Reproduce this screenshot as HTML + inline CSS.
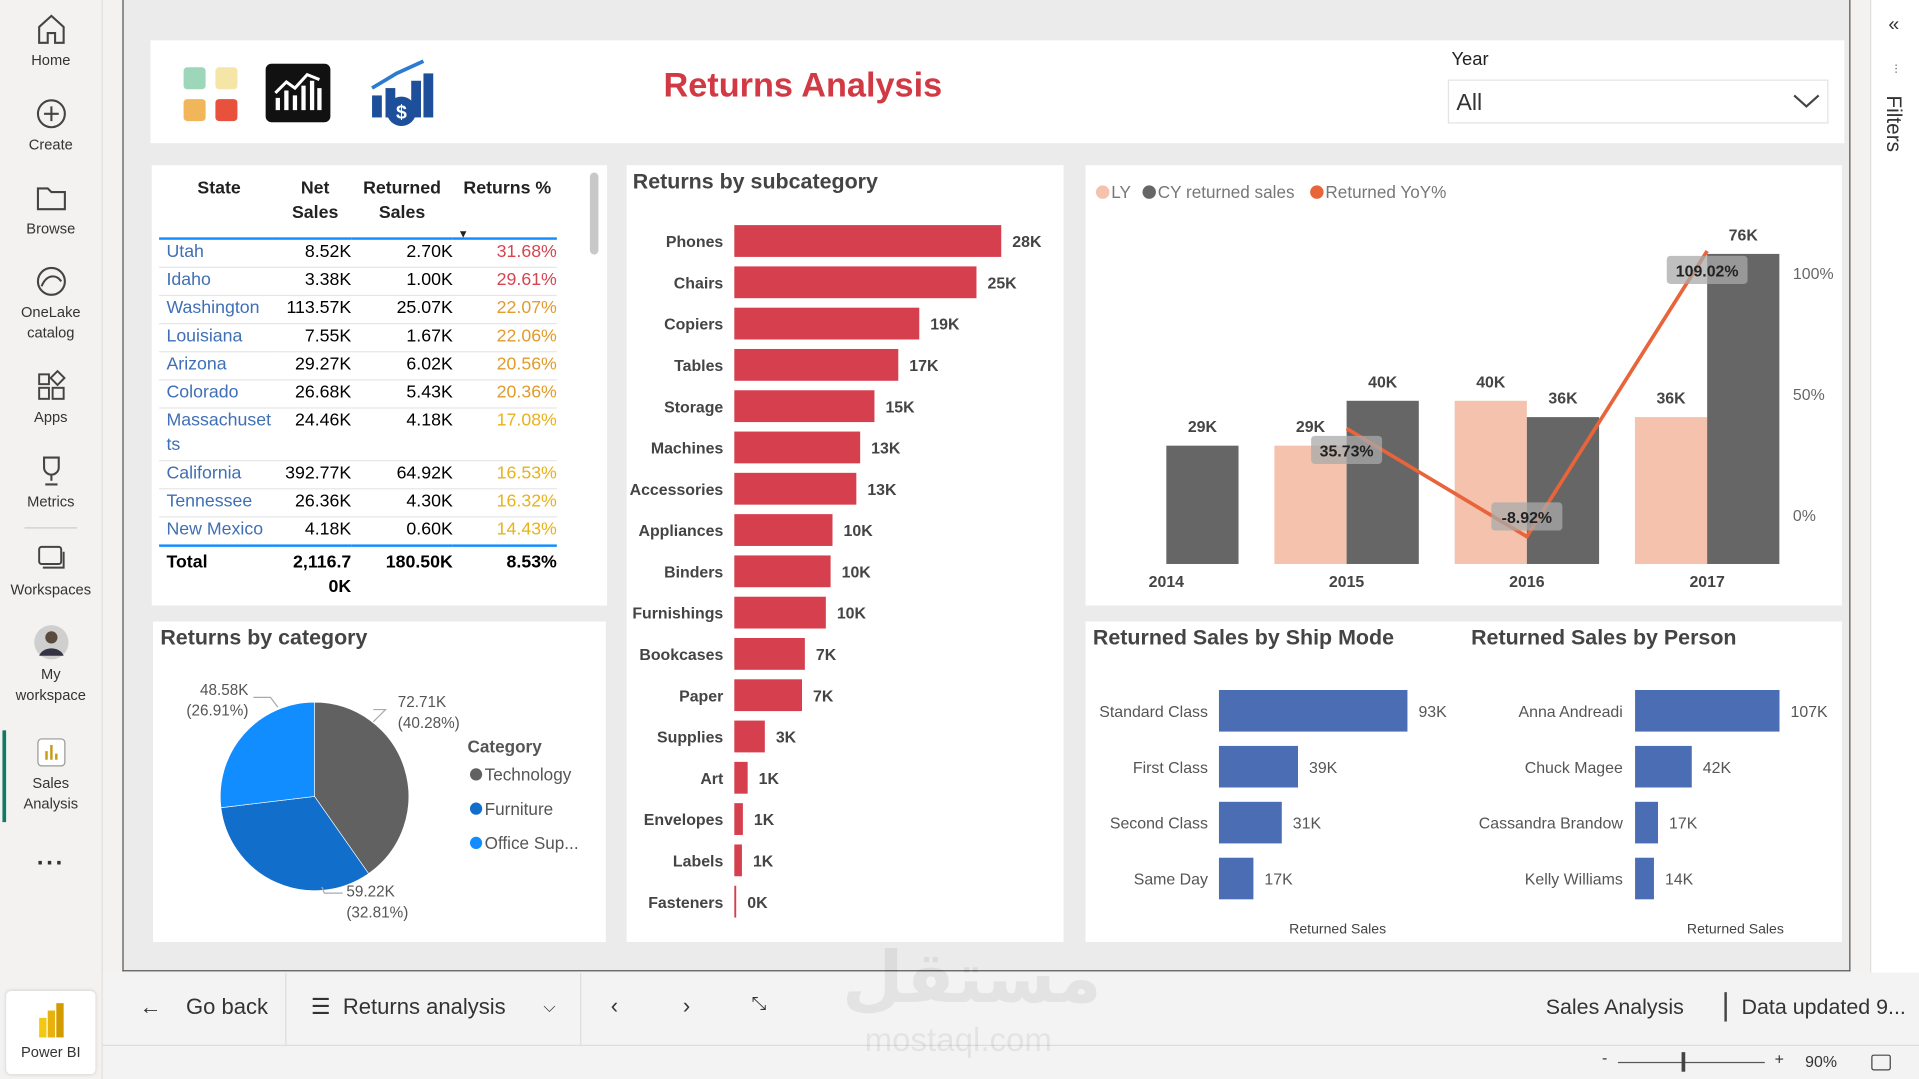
<!DOCTYPE html>
<html><head><meta charset="utf-8">
<style>
html,body{margin:0;padding:0;width:1919px;height:1079px;overflow:hidden;background:#f3f2f1;font-family:"Liberation Sans",sans-serif;}
#wrap{position:absolute;left:0;top:0;width:1568px;height:882px;transform:scale(1.22385,1.2234);transform-origin:0 0;background:#f3f2f1;}
.abs{position:absolute;}
.nav-item{position:absolute;left:0;width:83px;text-align:center;font-size:12px;color:#333;line-height:17px;}
.nav-item svg{display:block;margin:0 auto 3px;}
.panel{position:absolute;background:#fff;}
.ptitle{position:absolute;font-weight:bold;font-size:17.5px;color:#444;}
table{border-collapse:collapse;}
.tb{position:absolute;font-size:14.5px;}
.tb td{height:22px;border-bottom:1px solid #e6e6e6;padding:0;vertical-align:top;line-height:20px;}
.st{color:#3f6fb5;}
.r{text-align:right;}
</style></head>
<body>
<div id="wrap">
<!-- left nav -->
<div class="abs" style="left:0;top:0;width:83px;height:882px;background:#f3f2f1;border-right:1px solid #e1dfdd;">
 <div class="nav-item" style="top:10px;"><svg width="26" height="28" viewBox="0 0 26 28"><path d="M3 12 L13 3 L23 12 V25 H16 V17 H10 V25 H3 Z" fill="none" stroke="#444" stroke-width="1.7"/></svg>Home</div>
 <div class="nav-item" style="top:79px;"><svg width="28" height="28"><circle cx="14" cy="14" r="11" fill="none" stroke="#444" stroke-width="1.7"/><path d="M14 8v12M8 14h12" stroke="#444" stroke-width="1.7"/></svg>Create</div>
 <div class="nav-item" style="top:148px;"><svg width="28" height="28"><path d="M3 6h8l3 3h11v14H3z" fill="none" stroke="#444" stroke-width="1.7"/></svg>Browse</div>
 <div class="nav-item" style="top:216px;"><svg width="28" height="28"><circle cx="14" cy="14" r="11" fill="none" stroke="#444" stroke-width="1.7"/><path d="M6 18 C10 8 18 8 22 14" fill="none" stroke="#444" stroke-width="1.7"/></svg>OneLake<br>catalog</div>
 <div class="nav-item" style="top:302px;"><svg width="28" height="28"><rect x="4" y="4" width="8" height="8" fill="none" stroke="#444" stroke-width="1.6"/><rect x="4" y="15" width="8" height="9" fill="none" stroke="#444" stroke-width="1.6"/><rect x="15" y="15" width="9" height="9" fill="none" stroke="#444" stroke-width="1.6"/><rect x="15" y="3" width="8" height="8" transform="rotate(45 19 7)" fill="none" stroke="#444" stroke-width="1.6"/></svg>Apps</div>
 <div class="nav-item" style="top:371px;"><svg width="28" height="28"><path d="M8 3h12v8a6 6 0 0 1-12 0z M14 17v5 M9 25h10" fill="none" stroke="#444" stroke-width="1.7"/></svg>Metrics</div>
 <div class="abs" style="left:20px;top:431px;width:43px;height:1px;background:#ccc;"></div>
 <div class="nav-item" style="top:443px;"><svg width="28" height="28"><rect x="4" y="4" width="18" height="14" rx="2" fill="none" stroke="#444" stroke-width="1.6"/><path d="M7 21h17V8" fill="none" stroke="#444" stroke-width="1.6"/></svg>Workspaces</div>
 <div class="nav-item" style="top:510px;"><svg width="30" height="30"><circle cx="15" cy="15" r="14" fill="#cfcfcf"/><circle cx="15" cy="11" r="5" fill="#5a4a3e"/><path d="M5 26 C8 18 22 18 25 26" fill="#334"/></svg>My<br>workspace</div>
 <div class="abs" style="left:2px;top:597px;width:3px;height:75px;background:#117865;"></div>
 <div class="nav-item" style="top:601px;"><svg width="28" height="28"><rect x="3" y="3" width="22" height="22" rx="3" fill="#fff" stroke="#999"/><path d="M10 20v-7M14 20V8M18 20v-5" stroke="#c89a16" stroke-width="2"/></svg>Sales<br>Analysis</div>
 <div class="nav-item" style="top:698px;font-size:20px;font-weight:bold;letter-spacing:1px;">···</div>
 <div class="abs" style="left:5px;top:810px;width:73px;height:68px;background:#fff;border-radius:4px;box-shadow:0 0 3px #ccc;text-align:center;font-size:12px;color:#333;">
  <svg width="26" height="32" style="margin-top:8px;"><rect x="3" y="14" width="6" height="16" fill="#f2c811"/><rect x="10" y="8" width="6" height="22" fill="#e8b10d"/><rect x="17" y="2" width="6" height="28" fill="#d29b00"/></svg><div>Power BI</div></div>
</div>

<!-- canvas -->
<div class="abs" style="left:100px;top:0;width:1410px;height:793px;background:#ebebeb;border:1px solid #555;border-top:none;"></div>

<!-- header -->
<div class="panel" style="left:123px;top:33px;width:1384px;height:84px;">
 <div class="abs" style="left:27px;top:22px;">
  <div class="abs" style="left:0;top:0;width:18px;height:18px;background:#9dd6b8;border-radius:3px;"></div>
  <div class="abs" style="left:26px;top:0;width:18px;height:18px;background:#f5e6a8;border-radius:3px;"></div>
  <div class="abs" style="left:0;top:26px;width:18px;height:18px;background:#f2b65a;border-radius:3px;"></div>
  <div class="abs" style="left:26px;top:26px;width:18px;height:18px;background:#e8513c;border-radius:3px;"></div>
 </div>
 <svg class="abs" style="left:94px;top:19px;" width="53" height="48"><rect width="53" height="48" rx="5" fill="#111"/><path d="M10 38V28M17 38V22M24 38V26M31 38V18M38 38V14M44 38V20" stroke="#fff" stroke-width="3.5"/><path d="M8 24 L17 15 L24 20 L34 9 L44 13" fill="none" stroke="#fff" stroke-width="2.5"/></svg>
 <svg class="abs" style="left:177px;top:15px;" width="56" height="56"><rect x="4" y="30" width="8" height="18" fill="#1e4f9a"/><rect x="15" y="24" width="8" height="24" fill="#1e4f9a"/><rect x="36" y="18" width="8" height="30" fill="#1e4f9a"/><rect x="46" y="12" width="8" height="36" fill="#1e4f9a"/><path d="M4 24 L24 12 L46 2" stroke="#2b7bd1" stroke-width="3" fill="none"/><circle cx="28" cy="43" r="12" fill="#1e4f9a"/><text x="28" y="49" font-size="16" font-weight="bold" fill="#fff" text-anchor="middle" font-family="Liberation Sans">$</text></svg>
 <div class="abs" style="left:405px;top:21px;width:256px;text-align:center;font-size:28px;font-weight:bold;color:#d13a45;">Returns Analysis</div>
 <div class="abs" style="left:1063px;top:7px;font-size:15px;color:#222;">Year</div>
 <div class="abs" style="left:1060px;top:32px;width:311px;height:36px;border:1px solid #e3e3e3;font-size:19px;color:#333;line-height:38px;box-sizing:border-box;padding-left:6px;">All<svg class="abs" style="right:6px;top:11px;" width="22" height="12"><path d="M1 1 L11 10 L21 1" fill="none" stroke="#444" stroke-width="1.8"/></svg></div>
</div>

<!-- table -->
<div class="panel" style="left:124px;top:135px;width:372px;height:360px;">
 <div class="tb" style="left:6px;top:9px;">
 <table style="width:325px;">
  <tr style="font-weight:bold;color:#222;"><td style="width:98px;text-align:center;border-bottom:2px solid #118dff;height:50px;line-height:20px;">State</td><td class="r" style="width:59px;text-align:center;border-bottom:2px solid #118dff;">Net<br>Sales</td><td style="width:83px;text-align:center;border-bottom:2px solid #118dff;">Returned<br>Sales</td><td class="r" style="border-bottom:2px solid #118dff;position:relative;text-align:center;padding-left:4px;">Returns %<span style="position:absolute;left:4px;top:37px;font-size:9px;">▼</span></td></tr>
  <tr><td class="st" style="padding-left:6px">Utah</td><td class="r">8.52K</td><td class="r">2.70K</td><td class="r" style="color:#d64550;">31.68%</td></tr>
  <tr><td class="st" style="padding-left:6px">Idaho</td><td class="r">3.38K</td><td class="r">1.00K</td><td class="r" style="color:#d64550;">29.61%</td></tr>
  <tr><td class="st" style="padding-left:6px">Washington</td><td class="r">113.57K</td><td class="r">25.07K</td><td class="r" style="color:#e39b2c;">22.07%</td></tr>
  <tr><td class="st" style="padding-left:6px">Louisiana</td><td class="r">7.55K</td><td class="r">1.67K</td><td class="r" style="color:#e39b2c;">22.06%</td></tr>
  <tr><td class="st" style="padding-left:6px">Arizona</td><td class="r">29.27K</td><td class="r">6.02K</td><td class="r" style="color:#e39b2c;">20.56%</td></tr>
  <tr><td class="st" style="padding-left:6px">Colorado</td><td class="r">26.68K</td><td class="r">5.43K</td><td class="r" style="color:#e39b2c;">20.36%</td></tr>
  <tr><td class="st" style="padding-left:6px;height:42px;">Massachuset<br>ts</td><td class="r">24.46K</td><td class="r">4.18K</td><td class="r" style="color:#e8b21a;">17.08%</td></tr>
  <tr><td class="st" style="padding-left:6px">California</td><td class="r">392.77K</td><td class="r">64.92K</td><td class="r" style="color:#e8b21a;">16.53%</td></tr>
  <tr><td class="st" style="padding-left:6px">Tennessee</td><td class="r">26.36K</td><td class="r">4.30K</td><td class="r" style="color:#e8b21a;">16.32%</td></tr>
  <tr><td class="st" style="padding-left:6px;border-bottom:2px solid #118dff;">New Mexico</td><td class="r" style="border-bottom:2px solid #118dff;">4.18K</td><td class="r" style="border-bottom:2px solid #118dff;">0.60K</td><td class="r" style="color:#e8b21a;border-bottom:2px solid #118dff;">14.43%</td></tr>
  <tr style="font-weight:bold;"><td style="padding-left:6px;padding-top:3px;border:none;">Total</td><td class="r" style="padding-top:3px;border:none;">2,116.7<br>0K</td><td class="r" style="padding-top:3px;border:none;">180.50K</td><td class="r" style="padding-top:3px;border:none;">8.53%</td></tr>
 </table></div>
 <div class="abs" style="left:358px;top:6px;width:7px;height:67px;background:#c8c8c8;border-radius:4px;"></div>
</div>

<!-- subcategory -->
<div class="panel" style="left:512px;top:135px;width:357px;height:635px;">
 <div class="ptitle" style="left:5px;top:3px;">Returns by subcategory</div>
 <svg id="subSvg" class="abs" style="left:0;top:0;" width="357" height="635"></svg>
</div>

<!-- combo chart -->
<div class="panel" style="left:887px;top:135px;width:618px;height:360px;">
 <svg id="comboSvg" class="abs" style="left:0;top:0;" width="618" height="360"></svg>
</div>

<!-- pie -->
<div class="panel" style="left:125px;top:508px;width:370px;height:262px;">
 <div class="ptitle" style="left:6px;top:3px;">Returns by category</div>
 <svg id="pieSvg" class="abs" style="left:0;top:0;" width="370" height="262"></svg>
</div>

<!-- ship/person -->
<div class="panel" style="left:887px;top:508px;width:618px;height:262px;">
 <div class="ptitle" style="left:6px;top:3px;">Returned Sales by Ship Mode</div>
 <div class="ptitle" style="left:315px;top:3px;">Returned Sales by Person</div>
 <svg id="hbSvg" class="abs" style="left:0;top:0;" width="618" height="262"></svg>
</div>

<!-- right filter pane -->
<div class="abs" style="left:1528px;top:0;width:40px;height:795px;background:#fff;border-left:1px solid #e1dfdd;">
 <div class="abs" style="left:14px;top:12px;font-size:16px;color:#333;">«</div>
 <div class="abs" style="left:19px;top:52px;font-size:10px;color:#333;">⫶</div>
 <div class="abs" style="left:8px;top:78px;font-size:17px;color:#333;writing-mode:vertical-rl;">Filters</div>
</div>

<!-- bottom bar -->
<div class="abs" style="left:84px;top:795px;width:1484px;height:59px;background:#f3f3f3;border-bottom:1px solid #ddd;font-size:18px;color:#333;">
 <div class="abs" style="left:30px;top:18px;">←&nbsp;&nbsp;&nbsp;&nbsp;Go back</div>
 <div class="abs" style="left:149px;top:0;width:1px;height:59px;background:#ddd;"></div>
 <div class="abs" style="left:170px;top:18px;width:205px;">☰&nbsp;&nbsp;Returns analysis<span style="position:absolute;left:190px;top:2px;font-size:13px;">⌵</span></div>
 <div class="abs" style="left:390px;top:0;width:1px;height:59px;background:#ddd;"></div>
 <div class="abs" style="left:415px;top:17px;">‹</div>
 <div class="abs" style="left:474px;top:17px;">›</div>
 <div class="abs" style="left:530px;top:17px;font-size:15px;">⤡</div>
 <div class="abs" style="left:1179px;top:18px;font-size:17.5px;">Sales Analysis</div>
 <div class="abs" style="left:1325px;top:16px;width:2px;height:24px;background:#444;"></div>
 <div class="abs" style="left:1339px;top:18px;font-size:17.5px;">Data updated 9...</div>
</div>
<div class="abs" style="left:84px;top:855px;width:1484px;height:27px;background:#f3f3f3;font-size:13px;color:#333;">
 <div class="abs" style="left:1225px;top:2px;">-</div>
 <div class="abs" style="left:1238px;top:13px;width:120px;height:1px;background:#555;"></div>
 <div class="abs" style="left:1290px;top:5px;width:3px;height:16px;background:#444;"></div>
 <div class="abs" style="left:1366px;top:3px;">+</div>
 <div class="abs" style="left:1391px;top:5px;">90%</div>
 <div class="abs" style="left:1445px;top:7px;width:14px;height:11px;border:1.5px solid #444;border-radius:2px;"></div>
</div>
<div class="abs" style="left:688px;top:765px;width:190px;text-align:center;color:#000;opacity:0.06;font-family:'Liberation Sans','DejaVu Sans',sans-serif;">
 <div style="font-size:58px;font-weight:bold;line-height:70px;">مستقل</div><div style="font-size:27px;line-height:30px;">mostaql.com</div></div>
</div>

<script>
const NS='http://www.w3.org/2000/svg';
function mk(parent,tag,attrs,text){const e=document.createElementNS(NS,tag);for(const k in attrs)e.setAttribute(k,attrs[k]);if(text!==undefined)e.textContent=text;parent.appendChild(e);return e;}

// ---- Subcategory data ----
const subCats=['Phones','Chairs','Copiers','Tables','Storage','Machines','Accessories','Appliances','Binders','Furnishings','Bookcases','Paper','Supplies','Art','Envelopes','Labels','Fasteners'];
const subVals=[28.0,25.4,19.4,17.2,14.7,13.2,12.8,10.3,10.1,9.6,7.4,7.1,3.2,1.4,0.9,0.8,0.2];
const subLabels=['28K','25K','19K','17K','15K','13K','13K','10K','10K','10K','7K','7K','3K','1K','1K','1K','0K'];

// ---- Combo data ----
const years=['2014','2015','2016','2017'];
const lyVals=[0,29,40,36];
const cyVals=[29,40,36,76];
const lyLabels=['','29K','40K','36K'];
const cyLabels=['29K','40K','36K','76K'];
const yoyVals=[null,35.73,-8.92,109.02];
const yoyLabels=['','35.73%','-8.92%','109.02%'];
const pctTicks=[0,50,100];

// ---- Pie data ----
const pieCats=['Technology','Furniture','Office Sup...'];
const pieVals=[72.71,59.22,48.58];
const pieLabels=['72.71K (40.28%)','59.22K (32.81%)','48.58K (26.91%)'];

// ---- Ship mode / person ----
const shipModes=['Standard Class','First Class','Second Class','Same Day'];
const shipVals=[93,39,31,17];
const personNames=['Anna Andreadi','Chuck Magee','Cassandra Brandow','Kelly Williams'];
const personVals=[107,42,17,14];

// Subcategory chart
(function(){
 const svg=document.getElementById('subSvg');
 const x0=88, kx=v=>x0+v*7.79, y=i=>62+i*33.75;
 subCats.forEach((c,i)=>{
  const t=mk(svg,'text',{x:79,y:y(i)+5,'text-anchor':'end','font-size':13,'font-weight':'bold',fill:'#444'},c);
  
  
  const r=mk(svg,'rect',{x:x0,y:y(i)-13,width:Math.max(kx(subVals[i])-x0,1),height:26,fill:'#d6404e'});
  
  
  const l=mk(svg,'text',{x:kx(subVals[i])+9,y:y(i)+5,'font-size':13,'font-weight':'bold',fill:'#444'},subLabels[i]);
  
  
 });
})();

// Combo chart
(function(){
 const svg=document.getElementById('comboSvg');
 const ox=887, oy=135;
 const base=461-oy, ky=v=>base-v*3.335, py=p=>421-oy-p*1.98, gx=i=>953-ox+i*147.3, bw=59;
 const lg=[['LY','#f4c2ad',8],['CY returned sales','#666',46],['Returned  YoY%','#e8643a',183]];
 lg.forEach(d=>{
  const c=mk(svg,'circle',{cx:d[2]+6,cy:22,r:5.5,fill:d[1]});
  
  
  const t=mk(svg,'text',{x:d[2]+13,y:27,'font-size':14,fill:'#777'},d[0]);
  
  
 });
 years.forEach((yr,i)=>{
  if(lyVals[i]>0){
   const r=mk(svg,'rect',{x:gx(i)-bw,y:ky(lyVals[i]),width:bw,height:base-ky(lyVals[i]),fill:'#f4c2ad'});
   
   
   const t=mk(svg,'text',{x:gx(i)-bw/2,y:ky(lyVals[i])-11,'text-anchor':'middle','font-size':13,'font-weight':'bold',fill:'#444'},lyLabels[i]);
   
   
  }
  const r2=mk(svg,'rect',{x:gx(i),y:ky(cyVals[i]),width:bw,height:base-ky(cyVals[i]),fill:'#666'});
  
  
  const t2=mk(svg,'text',{x:gx(i)+bw/2,y:ky(cyVals[i])-11,'text-anchor':'middle','font-size':13,'font-weight':'bold',fill:'#444'},cyLabels[i]);
  
  
  const xl=mk(svg,'text',{x:gx(i),y:345,'text-anchor':'middle','font-size':13,'font-weight':'bold',fill:'#444'},yr);
  
  
 });
 pctTicks.forEach(p=>{
  const t=mk(svg,'text',{x:578,y:py(p)+5,'font-size':13,fill:'#666'},p+'%');
  
  
 });
 let pts=[];
 yoyVals.forEach((v,i)=>{if(v!==null)pts.push([gx(i),py(v)]);});
 const pl=mk(svg,'polyline',{points:pts.map(p=>p.join(',')).join(' '),fill:'none',stroke:'#e8643a','stroke-width':3});
 
 
 yoyVals.forEach((v,i)=>{
  if(v===null)return;
  const w=yoyLabels[i].length*8+10;
  const cx=gx(i), cy=py(v)+(i===1?18:i===2?-16:16);
  const bg=mk(svg,'rect',{x:cx-w/2,y:cy-12,width:w,height:23,rx:3,fill:'#aaa','fill-opacity':0.75});
  
  
  const t=mk(svg,'text',{x:cx,y:cy+5,'text-anchor':'middle','font-size':13,'font-weight':'bold',fill:'#222'},yoyLabels[i]);
  
  
 });
})();

// Pie chart
(function(){
 const svg=document.getElementById('pieSvg');
 const cx=132, cy=143, r=77;
 const cols=['#616161','#116ecb','#118dff'];
 const total=pieVals.reduce((a,b)=>a+b,0);
 let a=-Math.PI/2;
 const lblPos=[[200,70,'start'],[158,225,'start'],[78,60,'end']];
 pieVals.forEach((v,i)=>{
  const a2=a+v/total*2*Math.PI;
  const x1=cx+r*Math.cos(a),y1=cy+r*Math.sin(a),x2=cx+r*Math.cos(a2),y2=cy+r*Math.sin(a2);
  const p=mk(svg,'path',{d:`M${cx},${cy}L${x1},${y1}A${r},${r} 0 ${a2-a>Math.PI?1:0} 1 ${x2},${y2}Z`,fill:cols[i],stroke:'#fff','stroke-width':0.5});
  
  
  const parts=pieLabels[i].split(' ');
  const lp=lblPos[i];
  const t1=mk(svg,'text',{x:lp[0],y:lp[1],'text-anchor':lp[2],'font-size':12.5,fill:'#555'},parts[0]);
  
  
  const t2=mk(svg,'text',{x:lp[0],y:lp[1]+17,'text-anchor':lp[2],'font-size':12.5,fill:'#555'},parts[1]);
  
  
  a=a2;
 });
 mk(svg,'polyline',{points:'180,72 190,72 180,82',fill:'none',stroke:'#aaa'});
 mk(svg,'polyline',{points:'155,222 140,222 138,217',fill:'none',stroke:'#aaa'});
 mk(svg,'polyline',{points:'82,62 96,62 102,70',fill:'none',stroke:'#aaa'});
 const lt=mk(svg,'text',{x:257,y:107,'font-size':14,'font-weight':'bold',fill:'#555'},'Category');
 
 
 pieCats.forEach((c,i)=>{
  const m=mk(svg,'circle',{cx:264,cy:125+i*28,r:5,fill:cols[i]});
  
  
  const t=mk(svg,'text',{x:271,y:130+i*28,'font-size':14,fill:'#555'},c);
  
  
 });
})();

// Ship mode + person
(function(){
 const svg=document.getElementById('hbSvg');
 const y=i=>73+i*45.7;
 function draw(names,vals,x0,k,lx,prefix,axX){
  names.forEach((n,i)=>{
   const t=mk(svg,'text',{x:lx,y:y(i)+5,'text-anchor':'end','font-size':13,fill:'#555'},n);
   
   
   const r=mk(svg,'rect',{x:x0,y:y(i)-17,width:vals[i]*k,height:34,fill:'#4a6db3'});
   
   
   const v=mk(svg,'text',{x:x0+vals[i]*k+9,y:y(i)+5,'font-size':13,fill:'#555'},vals[i]+'K');
   
   
  });
  const at=mk(svg,'text',{x:axX,y:255,'text-anchor':'middle','font-size':11.5,fill:'#444'},'Returned Sales');
  
  
 }
 draw(shipModes,shipVals,109,1.656,100,'ship-mode',206);
 draw(personNames,personVals,449,1.103,439,'person',531);
})();
</script>
</body></html>
